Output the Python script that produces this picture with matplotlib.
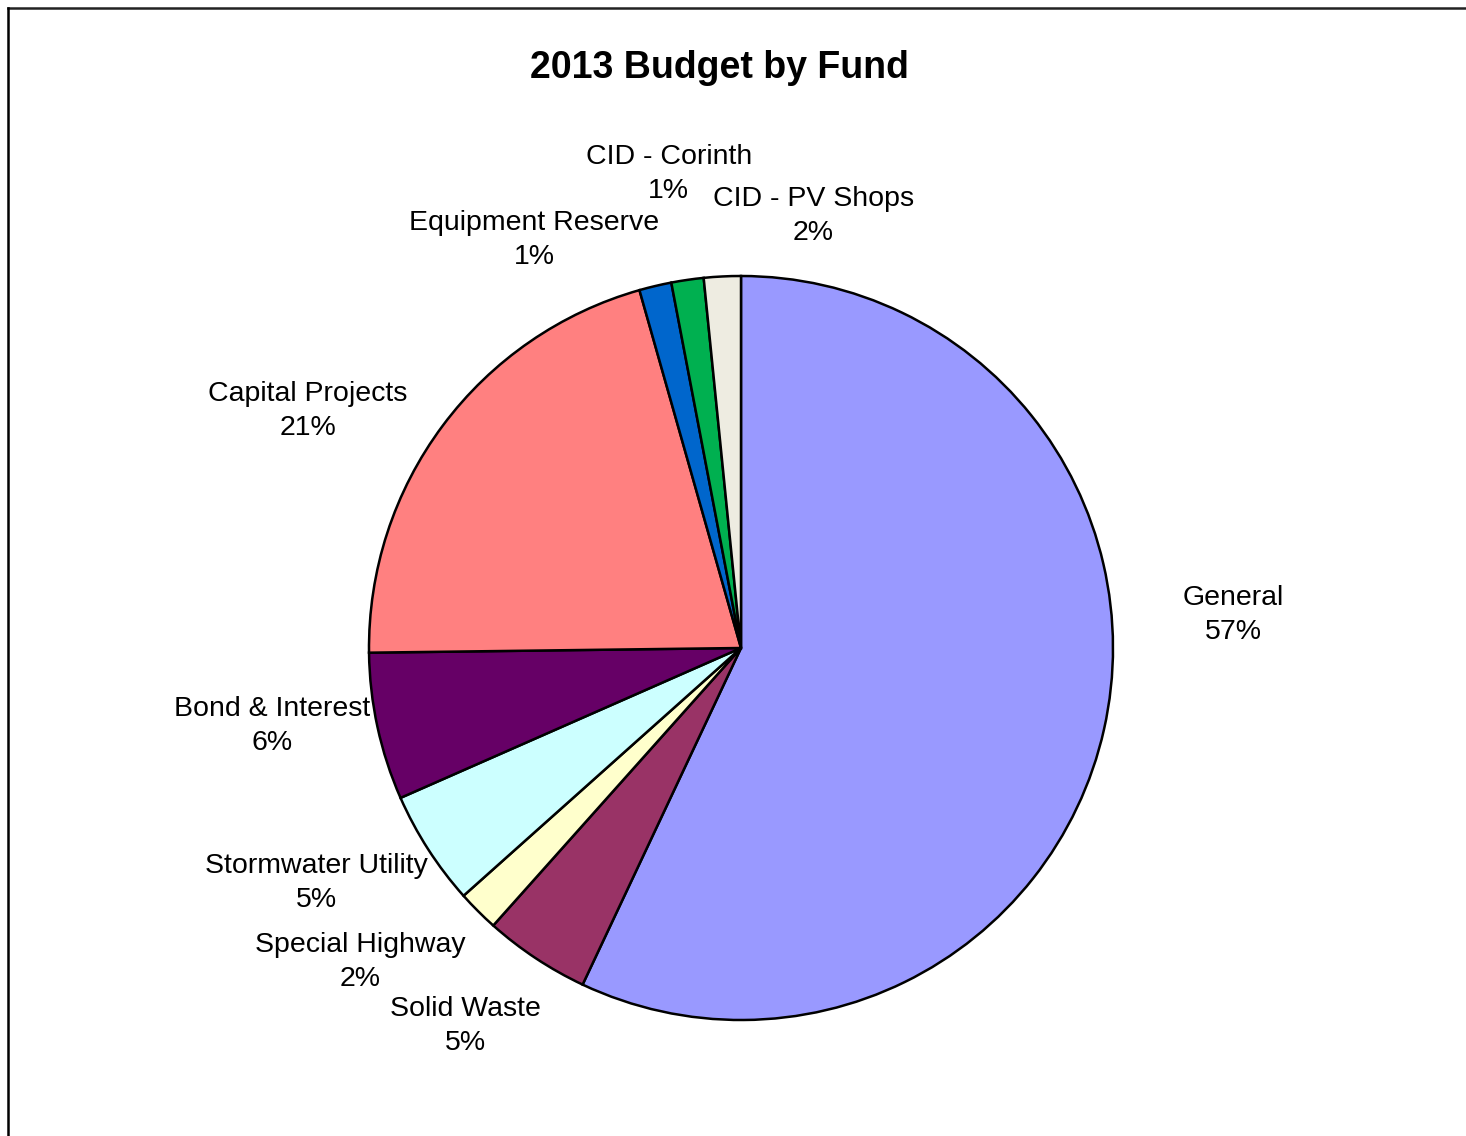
import matplotlib.pyplot as plt
from matplotlib.lines import Line2D

plt.rcParams['font.family'] = ['Liberation Sans', 'DejaVu Sans']

funds = ['General', 'Solid Waste', 'Special Highway', 'Stormwater Utility',
         'Bond & Interest', 'Capital Projects', 'Equipment Reserve',
         'CID - Corinth', 'CID - PV Shops']
shares = [57.0, 4.6, 1.8, 5.0, 6.4, 20.8, 1.4, 1.4, 1.6]
colors = ['#9999FF', '#993366', '#FFFFCC', '#CCFFFF', '#660066',
          '#FF8080', '#0066CC', '#00B050', '#EEECE1']

# label centres in units of the pie radius
label_pos = [(1.323, 0.089), (-0.742, -1.016), (-1.024, -0.844),
             (-1.142, -0.632), (-1.261, -0.210), (-1.164, 0.637),
             (-0.556, 1.097), (-0.194, 1.274), (0.194, 1.161)]

W, H = 1466, 1136
cx, cy, r = 741, H - 648, 372

fig = plt.figure(figsize=(W / 100, H / 100), dpi=100)
ax = fig.add_axes([0, 0, 1, 1])
ax.pie(shares, colors=colors, startangle=90, counterclock=False, radius=1,
       wedgeprops=dict(edgecolor='black', linewidth=1.8))
ax.set_xlim(-cx / r, (W - cx) / r)
ax.set_ylim(-cy / r, (H - cy) / r)
ax.set_aspect('auto')
ax.axis('off')

total = sum(shares)
for name, v, (lx, ly) in zip(funds, shares, label_pos):
    ax.text(lx, ly, '{}\n{:.0f}%'.format(name, 100 * v / total),
            ha='center', va='center', fontsize=20.5, linespacing=1.38)

fig.text(719 / W, 1 - 68 / H, '2013 Budget by Fund', ha='center', va='center',
         fontsize=27, fontweight='bold')

# frame lines on the top and left edges
fig.add_artist(Line2D([8 / W, 1], [1 - 8 / H, 1 - 8 / H], color='#222222',
                      linewidth=1.8, transform=fig.transFigure))
fig.add_artist(Line2D([8 / W, 8 / W], [0, 1 - 8 / H], color='black',
                      linewidth=1.8, transform=fig.transFigure))

fig.savefig('out.png', dpi=100, facecolor='white')
